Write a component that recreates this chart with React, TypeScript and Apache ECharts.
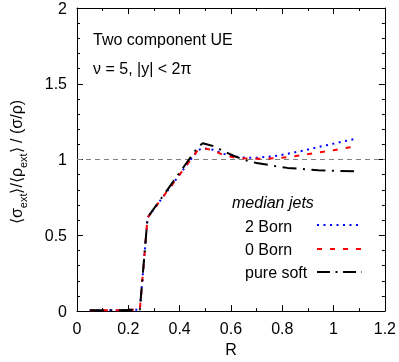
import React, { useEffect, useRef } from "react";
import * as echarts from "echarts";

const rValues = [0.05, 0.1, 0.15, 0.2, 0.245, 0.275, 0.47, 0.49, 0.53, 0.57, 0.61, 0.65, 0.7, 0.77, 0.82, 0.88, 0.94, 1.0, 1.08];
const born2 = [0.005, 0.005, 0.005, 0.008, 0.01, 0.617, 1.06, 1.075, 1.065, 1.038, 1.02, 1.013, 1.012, 1.022, 1.038, 1.058, 1.082, 1.105, 1.135];
const born0 = [0.005, 0.005, 0.005, 0.008, 0.01, 0.617, 1.06, 1.075, 1.062, 1.03, 1.015, 1.008, 1.005, 1.008, 1.015, 1.03, 1.047, 1.062, 1.085];
const pureSoft = [0.005, 0.005, 0.005, 0.008, 0.01, 0.617, 1.08, 1.107, 1.09, 1.057, 1.025, 0.998, 0.977, 0.958, 0.945, 0.937, 0.93, 0.926, 0.922];
const seriesNames = ["2 Born", "0 Born", "pure soft"];
const xTicks = { min: 0, max: 1.2, interval: 0.2 };
const yTicks = { min: 0, max: 2, interval: 0.5 };

const FONT = "'Liberation Sans', Arial, Helvetica, sans-serif";

export default function App() {
  const ref = useRef<HTMLDivElement>(null);
  useEffect(() => {
    if (!ref.current) return;
    const chart = echarts.init(ref.current, null, { renderer: "svg" });
    const pair = (vals: number[]) => rValues.map((r, i) => [r, vals[i]]);
    const axisCommon = {
      axisLine: { show: true, onZero: false, lineStyle: { color: "#000", width: 1 } },
      axisTick: { show: true, inside: true, length: 6, lineStyle: { color: "#000" } },
      splitLine: { show: false },
    };
    const dashes = {
      blue: [2, 4.5],
      red: [5, 8],
      black: [14, 6.5, 2, 6.5],
    };
    chart.setOption({
      animation: false,
      textStyle: { fontFamily: FONT },
      grid: { left: 77, right: 14, top: 7, bottom: 48, containLabel: false },
      xAxis: [
        {
          type: "value",
          position: "bottom",
          ...xTicks,
          ...axisCommon,
          minorTick: { show: true, splitNumber: 2, length: 3, lineStyle: { color: "#000" } },
          axisLabel: { fontSize: 16, color: "#000", margin: 9, fontFamily: FONT },
          name: "R",
          nameLocation: "middle",
          nameGap: 26,
          nameTextStyle: { fontSize: 16, color: "#000", fontFamily: FONT },
        },
        {
          type: "value",
          position: "top",
          ...xTicks,
          ...axisCommon,
          minorTick: { show: true, splitNumber: 2, length: 3, lineStyle: { color: "#000" } },
          axisLabel: { show: false },
        },
      ],
      yAxis: [
        {
          type: "value",
          position: "left",
          ...yTicks,
          ...axisCommon,
          minorTick: { show: true, splitNumber: 5, length: 3, lineStyle: { color: "#000" } },
          axisLabel: { fontSize: 16, color: "#000", margin: 10, fontFamily: FONT },
        },
        {
          type: "value",
          position: "right",
          ...yTicks,
          ...axisCommon,
          minorTick: { show: true, splitNumber: 5, length: 3, lineStyle: { color: "#000" } },
          axisLabel: { show: false },
        },
      ],
      series: [
        {
          name: seriesNames[0],
          type: "line",
          data: pair(born2),
          symbol: "none",
          lineStyle: { color: "#0000ff", width: 2, type: dashes.blue },
          markLine: {
            silent: true,
            symbol: ["none", "none"],
            label: { show: false },
            lineStyle: { color: "#808080", width: 1, type: [5, 4] },
            data: [{ yAxis: 1 }],
            z: 1,
          },
          z: 3,
        },
        {
          name: seriesNames[1],
          type: "line",
          data: pair(born0),
          symbol: "none",
          lineStyle: { color: "#ff0000", width: 2, type: dashes.red },
          z: 4,
        },
        {
          name: seriesNames[2],
          type: "line",
          data: pair(pureSoft),
          symbol: "none",
          lineStyle: { color: "#000000", width: 2, type: dashes.black },
          z: 5,
        },
      ],
      graphic: [
        {
          type: "text",
          x: 93,
          y: 39,
          style: { text: "Two component UE", fontSize: 16, fontFamily: FONT, fill: "#000", verticalAlign: "middle", align: "left" },
        },
        {
          type: "text",
          x: 93,
          y: 68,
          style: { text: "ν = 5, |y| < 2π", fontSize: 16, fontFamily: FONT, fill: "#000", verticalAlign: "middle", align: "left" },
        },
        {
          type: "text",
          x: 15,
          y: 162,
          rotation: Math.PI / 2,
          style: {
            text: "{a|⟨σ}{s|ext}{a|⟩/⟨ρ}{s|ext}{a|⟩ / (σ/ρ)}",
            align: "center",
            verticalAlign: "middle",
            fill: "#000",
            rich: {
              a: { fontSize: 16, fontFamily: FONT, fill: "#000", lineHeight: 18, verticalAlign: "bottom" },
              s: { fontSize: 11, fontFamily: FONT, fill: "#000", lineHeight: 11, verticalAlign: "bottom", padding: [0, 0, -4, 0] },
            },
          },
        },
        {
          type: "text",
          x: 232,
          y: 202,
          style: { text: "median jets", fontSize: 16, fontStyle: "italic", fontFamily: FONT, fill: "#000", verticalAlign: "middle" },
        },
        {
          type: "text",
          x: 245,
          y: 226,
          style: { text: seriesNames[0], fontSize: 16, fontFamily: FONT, fill: "#000", verticalAlign: "middle" },
        },
        {
          type: "text",
          x: 245,
          y: 249.5,
          style: { text: seriesNames[1], fontSize: 16, fontFamily: FONT, fill: "#000", verticalAlign: "middle" },
        },
        {
          type: "text",
          x: 245,
          y: 272,
          style: { text: seriesNames[2], fontSize: 16, fontFamily: FONT, fill: "#000", verticalAlign: "middle" },
        },
        {
          type: "line",
          shape: { x1: 317, y1: 225, x2: 362, y2: 225 },
          style: { stroke: "#0000ff", lineWidth: 2, lineDash: dashes.blue },
        },
        {
          type: "line",
          shape: { x1: 317, y1: 249, x2: 362, y2: 249 },
          style: { stroke: "#ff0000", lineWidth: 2, lineDash: dashes.red },
        },
        {
          type: "line",
          shape: { x1: 317, y1: 272, x2: 362, y2: 272 },
          style: { stroke: "#000", lineWidth: 2, lineDash: [13, 5.5, 2, 5.5] },
        },
      ],
    });
    return () => chart.dispose();
  }, []);
  return <div ref={ref} style={{ position: "fixed", left: 0, top: 0, width: 399, height: 362 }} />;
}
